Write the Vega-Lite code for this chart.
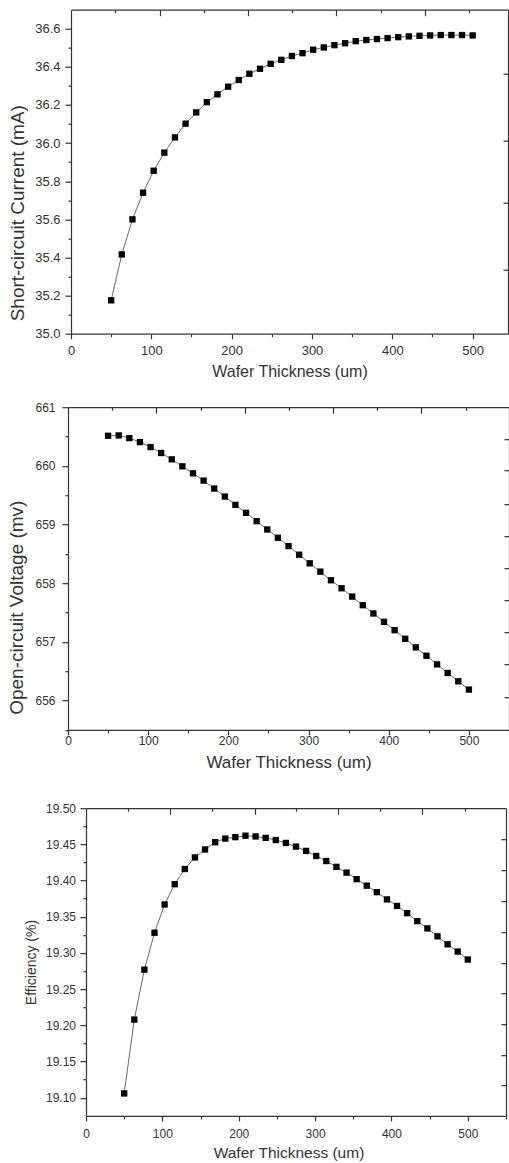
{
  "$schema": "https://vega.github.io/schema/vega-lite/v6.json",
  "padding": {"left": 0, "top": 8.7, "right": 0, "bottom": 0},
  "background": "white",
  "config": {
    "view": {"stroke": null},
    "font": "Liberation Sans",
    "axis": {"grid": false, "domainColor": "#333", "domainWidth": 1.2, "tickColor": "#333", "tickWidth": 1.2, "labelColor": "#333", "titleColor": "#333", "labelFont": "Liberation Sans", "titleFont": "Liberation Sans", "titleFontWeight": "normal", "labelFlush": false, "labelOverlap": false}
  },
  "datasets": {
    "wafer": [
      {"thickness": 50, "jsc": 35.175, "voc": 660.513, "eff": 19.106},
      {"thickness": 63.24, "jsc": 35.416, "voc": 660.519, "eff": 19.208},
      {"thickness": 76.47, "jsc": 35.600, "voc": 660.473, "eff": 19.277},
      {"thickness": 89.71, "jsc": 35.740, "voc": 660.405, "eff": 19.328},
      {"thickness": 102.94, "jsc": 35.855, "voc": 660.320, "eff": 19.367},
      {"thickness": 116.18, "jsc": 35.950, "voc": 660.219, "eff": 19.395},
      {"thickness": 129.41, "jsc": 36.030, "voc": 660.111, "eff": 19.416},
      {"thickness": 142.65, "jsc": 36.102, "voc": 659.992, "eff": 19.432},
      {"thickness": 155.88, "jsc": 36.161, "voc": 659.873, "eff": 19.443},
      {"thickness": 169.12, "jsc": 36.215, "voc": 659.749, "eff": 19.453},
      {"thickness": 182.35, "jsc": 36.256, "voc": 659.613, "eff": 19.458},
      {"thickness": 195.59, "jsc": 36.296, "voc": 659.477, "eff": 19.460},
      {"thickness": 208.82, "jsc": 36.331, "voc": 659.335, "eff": 19.462},
      {"thickness": 222.06, "jsc": 36.364, "voc": 659.199, "eff": 19.461},
      {"thickness": 235.29, "jsc": 36.390, "voc": 659.058, "eff": 19.459},
      {"thickness": 248.53, "jsc": 36.416, "voc": 658.916, "eff": 19.456},
      {"thickness": 261.76, "jsc": 36.437, "voc": 658.775, "eff": 19.452},
      {"thickness": 275, "jsc": 36.457, "voc": 658.633, "eff": 19.447},
      {"thickness": 288.24, "jsc": 36.472, "voc": 658.486, "eff": 19.441},
      {"thickness": 301.47, "jsc": 36.490, "voc": 658.339, "eff": 19.434},
      {"thickness": 314.71, "jsc": 36.502, "voc": 658.197, "eff": 19.427},
      {"thickness": 327.94, "jsc": 36.514, "voc": 658.050, "eff": 19.419},
      {"thickness": 341.18, "jsc": 36.524, "voc": 657.914, "eff": 19.411},
      {"thickness": 354.41, "jsc": 36.535, "voc": 657.772, "eff": 19.402},
      {"thickness": 367.65, "jsc": 36.541, "voc": 657.625, "eff": 19.393},
      {"thickness": 380.88, "jsc": 36.546, "voc": 657.484, "eff": 19.384},
      {"thickness": 394.12, "jsc": 36.551, "voc": 657.342, "eff": 19.374},
      {"thickness": 407.35, "jsc": 36.556, "voc": 657.200, "eff": 19.365},
      {"thickness": 420.59, "jsc": 36.560, "voc": 657.053, "eff": 19.355},
      {"thickness": 433.82, "jsc": 36.563, "voc": 656.906, "eff": 19.344},
      {"thickness": 447.06, "jsc": 36.565, "voc": 656.764, "eff": 19.334},
      {"thickness": 460.29, "jsc": 36.567, "voc": 656.617, "eff": 19.323},
      {"thickness": 473.53, "jsc": 36.567, "voc": 656.470, "eff": 19.312},
      {"thickness": 486.76, "jsc": 36.567, "voc": 656.328, "eff": 19.302},
      {"thickness": 500, "jsc": 36.565, "voc": 656.187, "eff": 19.291}
    ]
  },
  "spacing": 21.5,
  "vconcat": [
    {
      "spacing": 0,
      "hconcat": [
        {"width": 8, "height": 1, "data": {"values": []}, "mark": "point", "encoding": {}},
        {
          "width": 437, "height": 324,
          "data": {"name": "wafer"},
          "layer": [
            {
              "mark": {"type": "line", "color": "#444", "strokeWidth": 0.8},
              "encoding": {
                "x": {"field": "thickness", "type": "quantitative", "scale": {"domain": [0, 544], "nice": false, "zero": false},
                  "axis": {"orient": "bottom", "title": "Wafer Thickness (um)", "values": [0, 50, 100, 150, 200, 250, 300, 350, 400, 450, 500], "labelExpr": "datum.value % 100 === 0 ? format(datum.value, '.0f') : ''", "tickSize": {"condition": {"test": "datum.value % 100 !== 0", "value": 3}, "value": 5}, "labelPadding": 5.5, "labelFontSize": 13, "titleFontSize": 16, "titlePadding": 6}},
                "y": {"field": "jsc", "type": "quantitative", "scale": {"domain": [35.0, 36.7], "nice": false, "zero": false},
                  "axis": {"orient": "left", "title": "Short-circuit Current (mA)", "values": [35.0, 35.1, 35.2, 35.3, 35.4, 35.5, 35.6, 35.7, 35.8, 35.9, 36.0, 36.1, 36.2, 36.3, 36.4, 36.5, 36.6], "labelExpr": "round(datum.value*10) % 2 === 1 ? '' : format(datum.value, '.1f')", "tickSize": {"condition": {"test": "round(datum.value*10) % 2 === 1", "value": 3}, "value": 6}, "labelPadding": 5, "labelFontSize": 13, "titleFontSize": 19, "titlePadding": 7, "titleY": 203}}
              }
            },
            {
              "mark": {"type": "square", "color": "black", "opacity": 1, "size": 40},
              "encoding": {
                "x": {"field": "thickness", "type": "quantitative", "scale": {"domain": [0, 544], "nice": false, "zero": false},
                  "axis": {"orient": "top", "title": null, "labels": false, "values": [55, 110.3, 165.5, 220.8, 275, 330, 385.5, 440.6, 495.8], "tickSize": {"condition": {"test": "indexof([110.3, 220.8, 330, 440.6], datum.value) >= 0", "value": -6}, "value": -3}}},
                "y": {"field": "jsc", "type": "quantitative", "scale": {"domain": [35.0, 36.7], "nice": false, "zero": false},
                  "axis": {"orient": "right", "title": null, "labels": false, "values": [36.364, 36.014, 35.686, 35.336], "tickSize": -5}}
              }
            }
          ],
          "resolve": {"axis": {"x": "independent", "y": "independent"}}
        }
      ]
    },
    {
      "spacing": 32,
      "vconcat": [
        {
          "spacing": 0,
          "hconcat": [
            {"width": 7, "height": 1, "data": {"values": []}, "mark": "point", "encoding": {}},
            {
              "width": 441, "height": 322.7,
              "data": {"name": "wafer"},
              "layer": [
                {
                  "mark": {"type": "line", "color": "#444", "strokeWidth": 0.8},
                  "encoding": {
                    "x": {"field": "thickness", "type": "quantitative", "scale": {"domain": [0, 550], "nice": false, "zero": false},
                      "axis": {"orient": "bottom", "title": "Wafer Thickness (um)", "values": [0, 50, 100, 150, 200, 250, 300, 350, 400, 450, 500, 550], "labelExpr": "datum.value % 100 === 0 && datum.value <= 500 ? format(datum.value, '.0f') : ''", "tickSize": {"condition": {"test": "datum.value % 100 !== 0", "value": 3}, "value": 5}, "labelPadding": 1, "labelFontSize": 12, "titleFontSize": 17, "titlePadding": 7.3}},
                    "y": {"field": "voc", "type": "quantitative", "scale": {"domain": [655.5, 661], "nice": false, "zero": false},
                      "axis": {"orient": "left", "title": "Open-circuit Voltage (mv)", "values": [655.5, 656, 656.5, 657, 657.5, 658, 658.5, 659, 659.5, 660, 660.5, 661], "labelExpr": "round(datum.value*2) % 2 === 1 ? '' : format(datum.value, '.0f')", "tickSize": {"condition": {"test": "round(datum.value*2) % 2 === 1", "value": 3}, "value": 6}, "labelPadding": 7, "labelFontSize": 12, "titleFontSize": 19, "titlePadding": 8, "titleY": 200}}
                  }
                },
                {
                  "mark": {"type": "square", "color": "black", "opacity": 1, "size": 40},
                  "encoding": {
                    "x": {"field": "thickness", "type": "quantitative", "scale": {"domain": [0, 550], "nice": false, "zero": false},
                      "axis": {"orient": "top", "title": null, "labels": false, "values": [55, 110.3, 165.5, 220.8, 275, 330, 385.5, 440.6, 495.8], "tickSize": {"condition": {"test": "indexof([110.3, 220.8, 330, 440.6], datum.value) >= 0", "value": -6}, "value": -3}}},
                    "y": {"field": "voc", "type": "quantitative", "scale": {"domain": [655.5, 661], "nice": false, "zero": false},
                      "axis": {"orient": "right", "title": null, "labels": false, "values": [660.456, 659.918, 659.352, 658.803, 658.254, 657.716, 657.172, 656.612, 656.057], "tickSize": -5}}
                  }
                }
              ],
              "resolve": {"axis": {"x": "independent", "y": "independent"}}
            }
          ]
        },
        {
          "spacing": 0,
          "hconcat": [
            {"width": 24, "height": 1, "data": {"values": []}, "mark": "point", "encoding": {}},
            {
              "width": 420, "height": 307.7,
              "data": {"name": "wafer"},
              "layer": [
                {
                  "mark": {"type": "line", "color": "#444", "strokeWidth": 0.8},
                  "encoding": {
                    "x": {"field": "thickness", "type": "quantitative", "scale": {"domain": [0, 550], "nice": false, "zero": false},
                      "axis": {"orient": "bottom", "title": "Wafer Thickness (um)", "values": [0, 50, 100, 150, 200, 250, 300, 350, 400, 450, 500, 550], "labelExpr": "datum.value % 100 === 0 && datum.value <= 500 ? format(datum.value, '.0f') : ''", "tickSize": {"condition": {"test": "datum.value % 100 !== 0", "value": 3}, "value": 5}, "labelPadding": 7.3, "labelFontSize": 12, "titleFontSize": 15.5, "titlePadding": 6, "titleX": 202.5}},
                    "y": {"field": "eff", "type": "quantitative", "scale": {"domain": [19.075, 19.5], "nice": false, "zero": false},
                      "axis": {"orient": "left", "title": "Efficiency (%)", "values": [19.1, 19.125, 19.15, 19.175, 19.2, 19.225, 19.25, 19.275, 19.3, 19.325, 19.35, 19.375, 19.4, 19.425, 19.45, 19.475, 19.5], "labelExpr": "round(datum.value*40) % 2 === 1 ? '' : format(datum.value, '.2f')", "tickSize": {"condition": {"test": "round(datum.value*40) % 2 === 1", "value": 3}, "value": 6}, "labelPadding": 4.5, "labelFontSize": 12, "titleFontSize": 14, "titlePadding": 6.5}}
                  }
                },
                {
                  "mark": {"type": "square", "color": "black", "opacity": 1, "size": 40},
                  "encoding": {
                    "x": {"field": "thickness", "type": "quantitative", "scale": {"domain": [0, 550], "nice": false, "zero": false},
                      "axis": {"orient": "top", "title": null, "labels": false, "values": [55, 110.3, 165.5, 220.8, 275, 330, 385.5, 440.6, 495.8], "tickSize": {"condition": {"test": "indexof([110.3, 220.8, 330, 440.6], datum.value) >= 0", "value": -6}, "value": -3}}},
                    "y": {"field": "eff", "type": "quantitative", "scale": {"domain": [19.075, 19.5], "nice": false, "zero": false},
                      "axis": {"orient": "right", "title": null, "labels": false, "values": [19.4572, 19.4148, 19.3716, 19.3292, 19.2864, 19.2441, 19.2017, 19.1594, 19.1175], "tickSize": -5}}
                  }
                }
              ],
              "resolve": {"axis": {"x": "independent", "y": "independent"}}
            }
          ]
        }
      ]
    }
  ]
}
